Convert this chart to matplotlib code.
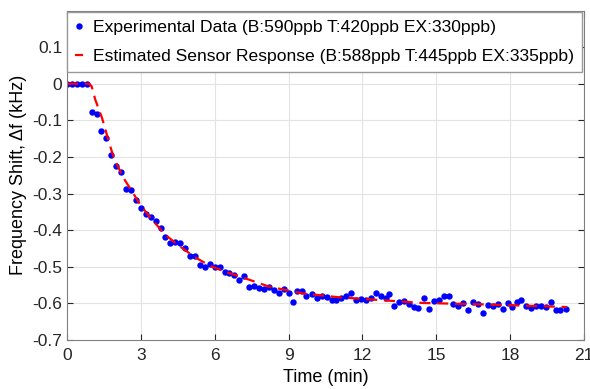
import matplotlib.pyplot as plt

plt.rcParams['font.family'] = ['Liberation Sans', 'DejaVu Sans']

# mittapisteet (aika min, taajuussiirtymä kHz)
t_data = [0.0, 0.2, 0.4, 0.6, 0.8, 1.0, 1.2, 1.4, 1.6, 1.8, 2.0, 2.2, 2.4, 2.6, 2.8,
          3.0, 3.2, 3.4, 3.6, 3.8, 4.0, 4.2, 4.4, 4.6, 4.8, 5.0, 5.2, 5.4, 5.6, 5.8,
          6.0, 6.2, 6.4, 6.6, 6.8, 7.0, 7.2, 7.4, 7.6, 7.8, 8.0, 8.2, 8.4, 8.6, 8.8,
          9.0, 9.2, 9.33, 9.53, 9.73, 9.94, 10.14, 10.34, 10.55, 10.75, 10.93, 11.12,
          11.32, 11.52, 11.73, 11.93, 12.13, 12.35, 12.55, 12.75, 12.96, 13.1, 13.3,
          13.5, 13.7, 13.88, 14.08, 14.28, 14.5, 14.7, 14.9, 15.1, 15.3, 15.5, 15.7,
          15.9, 16.1, 16.3, 16.5, 16.7, 16.9, 17.1, 17.3, 17.5, 17.7, 17.9, 18.1,
          18.3, 18.45, 18.66, 18.86, 19.06, 19.27, 19.47, 19.67, 19.85, 20.05, 20.26]
f_data = [0.0, 0.0, 0.0, 0.0, 0.0, -0.077, -0.083, -0.130, -0.147, -0.194, -0.225,
          -0.241, -0.288, -0.290, -0.317, -0.340, -0.356, -0.364, -0.376, -0.394,
          -0.419, -0.435, -0.431, -0.435, -0.449, -0.470, -0.470, -0.495, -0.501,
          -0.492, -0.501, -0.502, -0.513, -0.517, -0.522, -0.536, -0.526, -0.554,
          -0.552, -0.558, -0.560, -0.555, -0.563, -0.572, -0.561, -0.572, -0.595,
          -0.565, -0.567, -0.579, -0.574, -0.586, -0.579, -0.583, -0.590, -0.592,
          -0.586, -0.581, -0.572, -0.592, -0.588, -0.590, -0.586, -0.572, -0.581,
          -0.584, -0.575, -0.608, -0.595, -0.593, -0.602, -0.611, -0.613, -0.584,
          -0.615, -0.593, -0.590, -0.579, -0.579, -0.601, -0.607, -0.599, -0.619,
          -0.595, -0.601, -0.625, -0.604, -0.607, -0.601, -0.616, -0.599, -0.610,
          -0.596, -0.592, -0.608, -0.613, -0.607, -0.608, -0.610, -0.595, -0.619,
          -0.617, -0.616]

# arvioitu anturivaste
t_fit = [0.0, 0.9, 1.0, 1.15, 1.42, 1.7, 1.9, 2.3, 2.64, 3.0, 3.4, 4.0, 4.5, 5.2,
         5.8, 6.4, 7.0, 8.2, 9.5, 11.0, 12.5, 14.5, 16.5, 18.5, 20.3]
f_fit = [0.0, 0.0, -0.007, -0.044, -0.093, -0.158, -0.203, -0.258, -0.294, -0.333,
         -0.367, -0.413, -0.440, -0.474, -0.497, -0.513, -0.526, -0.554, -0.572,
         -0.583, -0.590, -0.599, -0.602, -0.606, -0.610]

fig = plt.figure(figsize=(5.9, 3.89), dpi=100)
ax = fig.add_axes([0.1136, 0.126, 0.876, 0.847])

ax.plot(t_data, f_data, 'o', color='#0000ff', markersize=4.6, markeredgewidth=0,
        label='Experimental Data (B:590ppb T:420ppb EX:330ppb)')
ax.plot(t_fit, f_fit, '--', color='#ff0000', linewidth=1.6, dashes=(5, 3),
        label='Estimated Sensor Response (B:588ppb T:445ppb EX:335ppb)')

ax.set_xlim(0, 21)
ax.set_ylim(-0.7, 0.2)
ax.set_xticks(range(0, 22, 3))
ax.set_yticks([-0.7, -0.6, -0.5, -0.4, -0.3, -0.2, -0.1, 0, 0.1])
ax.set_yticklabels(['-0.7', '-0.6', '-0.5', '-0.4', '-0.3', '-0.2', '-0.1', '0', '0.1'])
ax.grid(True, color='#e3e3e3', linewidth=0.8)
ax.set_axisbelow(True)
ax.tick_params(direction='in', top=True, right=True, labelsize=12.5, colors='#262626',
               length=4)
ax.tick_params(axis='x', pad=6)
for s in ax.spines.values():
    s.set_color('#808080')

ax.set_xlabel('Time (min)', fontsize=13, labelpad=4)
ax.set_ylabel('Frequency Shift, Δf (kHz)', fontsize=13, labelpad=4)

leg = ax.legend(loc='upper right', fontsize=12.6, handlelength=0.5, handletextpad=0.55,
                borderaxespad=0.1, fancybox=False, framealpha=1, borderpad=0.45,
                labelspacing=0.75)
leg.get_frame().set_edgecolor('#999999')

fig.savefig('out.png', dpi=100)
